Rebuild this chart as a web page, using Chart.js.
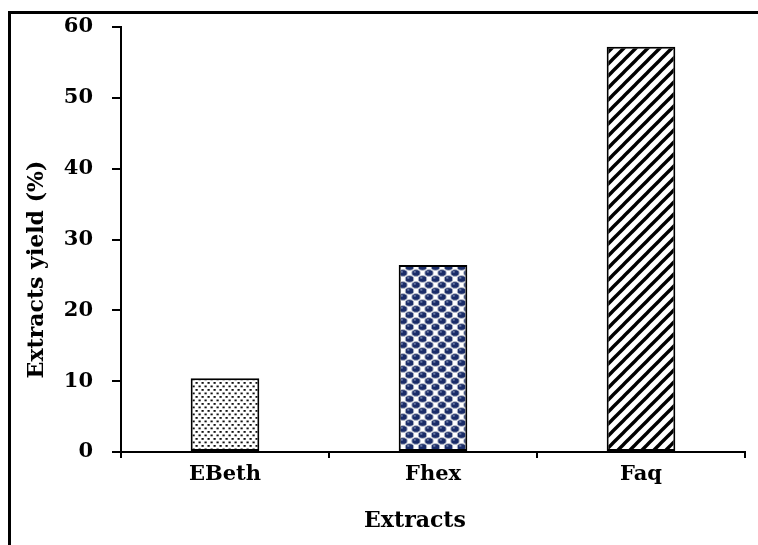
<!DOCTYPE html>
<html><head><meta charset="utf-8">
<script src="https://cdn.jsdelivr.net/npm/chart.js@4.4.1/dist/chart.umd.min.js"></script>
<style>
html,body{margin:0;padding:0;background:#fff;}
#wrap{position:relative;width:758px;height:545px;overflow:hidden;background:#fff;}
#frame{position:absolute;left:8px;top:11px;right:-10px;bottom:-10px;border-left:3px solid #000;border-top:3px solid #000;}
canvas{position:absolute;left:0;top:0;}
</style></head><body>
<div id="wrap"><div id="frame"></div><canvas id="c" width="758" height="545"></canvas></div>
<script>
const categories = ['EBeth', 'Fhex', 'Faq'];
const yieldValues = [10.4, 26.4, 57.2];
const yTicks = [0, 10, 20, 30, 40, 50, 60];
const yAxisTitle = 'Extracts yield (%)';
const xAxisTitle = 'Extracts';

function makeTile(w, h, draw) {
  const c = document.createElement('canvas');
  c.width = w; c.height = h;
  const g = c.getContext('2d');
  g.fillStyle = '#fff'; g.fillRect(0, 0, w, h);
  draw(g);
  return document.getElementById('c').getContext('2d').createPattern(c, 'repeat');
}
const stipple = makeTile(6, 7, g => {
  g.fillStyle = '#111';
  g.fillRect(0.5, 0.5, 2.2, 1.8);
  g.fillRect(3.5, 4, 2.2, 1.8);
});
const balls = makeTile(13, 12, g => {
  const pts = [[6.5, 3], [0, 9], [13, 9], [0, -3], [13, -3], [6.5, 15]];
  pts.forEach(([x, y]) => {
    g.beginPath(); g.ellipse(x, y, 4.2, 3.3, 0, 0, Math.PI * 2);
    g.fillStyle = '#1a2c68'; g.fill();
    g.lineWidth = 0.9; g.strokeStyle = '#a7adbd'; g.stroke();
    g.beginPath(); g.ellipse(x - 1.2, y - 1.1, 1.3, 0.8, 0, 0, Math.PI * 2);
    g.fillStyle = '#6f7ea8'; g.fill();
  });
});
const stripes = makeTile(12, 12, g => {
  g.strokeStyle = '#000'; g.lineWidth = 3.4;
  [0, 12, 24].forEach(k => { g.beginPath(); g.moveTo(-2, k + 2); g.lineTo(k + 2, -2); g.stroke(); });
});

const font = { family: '"DejaVu Serif"', weight: 'bold', size: 21 };

const titlePlugin = {
  id: 'axisTitles',
  afterDraw(chart) {
    const { ctx, chartArea: a } = chart;
    ctx.save();
    ctx.fillStyle = '#000';
    ctx.font = 'bold 22px "DejaVu Serif"';
    ctx.textAlign = 'center';
    ctx.textBaseline = 'middle';
    ctx.fillText(xAxisTitle, (a.left + a.right) / 2 - 18, a.bottom + 69);
    ctx.translate(37, (a.top + a.bottom) / 2 + 30);
    ctx.rotate(-Math.PI / 2);
    ctx.fillText(yAxisTitle, 0, 0);
    ctx.restore();
  }
};

new Chart(document.getElementById('c'), {
  type: 'bar',
  data: {
    labels: categories,
    datasets: [{
      data: yieldValues,
      backgroundColor: [stipple, balls, stripes],
      borderColor: '#000',
      borderWidth: 2,
      borderSkipped: false,
      barPercentage: 0.33,
      categoryPercentage: 1
    }]
  },
  options: {
    responsive: false,
    animation: false,
    devicePixelRatio: 1,
    layout: { padding: { top: 27, right: 13, left: 0, bottom: 0 } },
    plugins: { legend: { display: false }, tooltip: { enabled: false } },
    scales: {
      x: {
        afterFit(scale) { scale.height = 93; },
        grid: { offset: true, drawOnChartArea: false, drawTicks: true, tickLength: 6, color: '#000', lineWidth: 2 },
        border: { color: '#000', width: 2 },
        ticks: { color: '#000', font: font, padding: 4 }
      },
      y: {
        min: 0, max: 60,
        afterFit(scale) { scale.width = 121; scale.paddingTop = 10; scale.paddingBottom = 10; },
        afterBuildTicks(scale) { scale.ticks = yTicks.map(v => ({ value: v })); },
        grid: { drawOnChartArea: false, drawTicks: true, tickLength: 9, color: '#000', lineWidth: 2 },
        border: { color: '#000', width: 2 },
        ticks: { color: '#000', font: font, padding: 19 }
      }
    }
  },
  plugins: [titlePlugin]
});
</script>
</body></html>
